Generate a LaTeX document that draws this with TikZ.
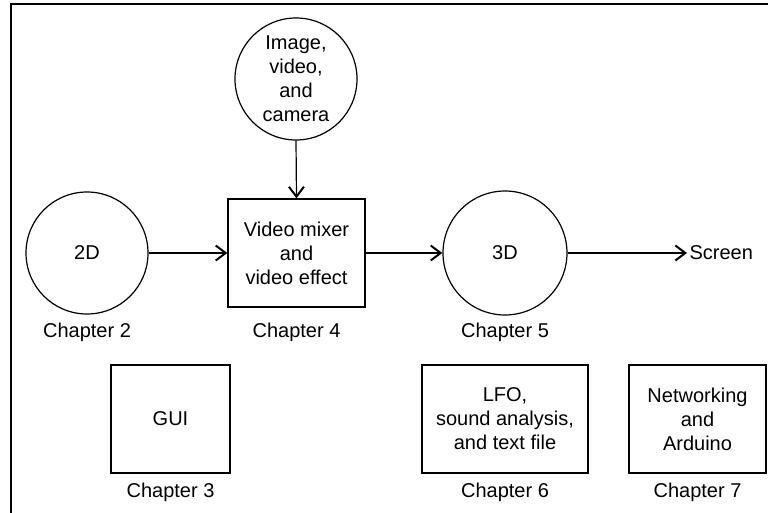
\documentclass[tikz,border=0pt]{standalone}
\usepackage{fontspec}
\setmainfont{Liberation Sans}
\usetikzlibrary{arrows.meta}

\begin{document}
\begin{tikzpicture}[x=1pt,y=-1pt,line width=1.2pt,every node/.style={font=\fontsize{20}{24}\selectfont},>={Straight Barb[length=10pt,width=15pt,line width=2pt]}]
\useasboundingbox (0,0) rectangle (768,513);
\draw (768,4) -- (11,4) -- (11,513);
% top row: sources, mixer, 3D
\node[draw,circle,minimum size=122pt,inner sep=0pt,align=center] (media) at (296,79) {Image,\\video,\\and\\camera};
\node[draw,circle,minimum size=122pt,inner sep=0pt] (flat) at (87,253) {2D};
\node[draw,minimum width=137pt,minimum height=108pt,align=center] (mixer) at (296.5,253) {Video mixer\\and\\video effect};
\node[draw,circle,minimum size=124pt,inner sep=0pt] (solid) at (505,253) {3D};
\node[anchor=west,inner sep=2pt] (screen) at (687,253) {Screen};
\draw[->] (media.south) -- (mixer.north);
\draw[->] (flat.east) -- (mixer.west);
\draw[->] (mixer.east) -- (solid.west);
\draw[->] (solid.east) -- (screen.west);
\node[anchor=base] (ch2) at (87,337) {Chapter 2};
\node[anchor=base] (ch4) at (296.5,337) {Chapter 4};
\node[anchor=base] (ch5) at (505,337) {Chapter 5};
% bottom row
\node[draw,minimum width=119pt,minimum height=108pt] (gui) at (170.5,419) {GUI};
\node[draw,minimum width=166pt,minimum height=108pt,align=center] (lfo) at (505,419) {LFO,\\sound analysis,\\and text file};
\node[draw,minimum width=137pt,minimum height=108pt,align=center] (net) at (697.5,419) {Networking\\and\\Arduino};
\node[anchor=base] (ch3) at (170.5,497) {Chapter 3};
\node[anchor=base] (ch6) at (505,497) {Chapter 6};
\node[anchor=base] (ch7) at (697.5,497) {Chapter 7};
\end{tikzpicture}
\end{document}
